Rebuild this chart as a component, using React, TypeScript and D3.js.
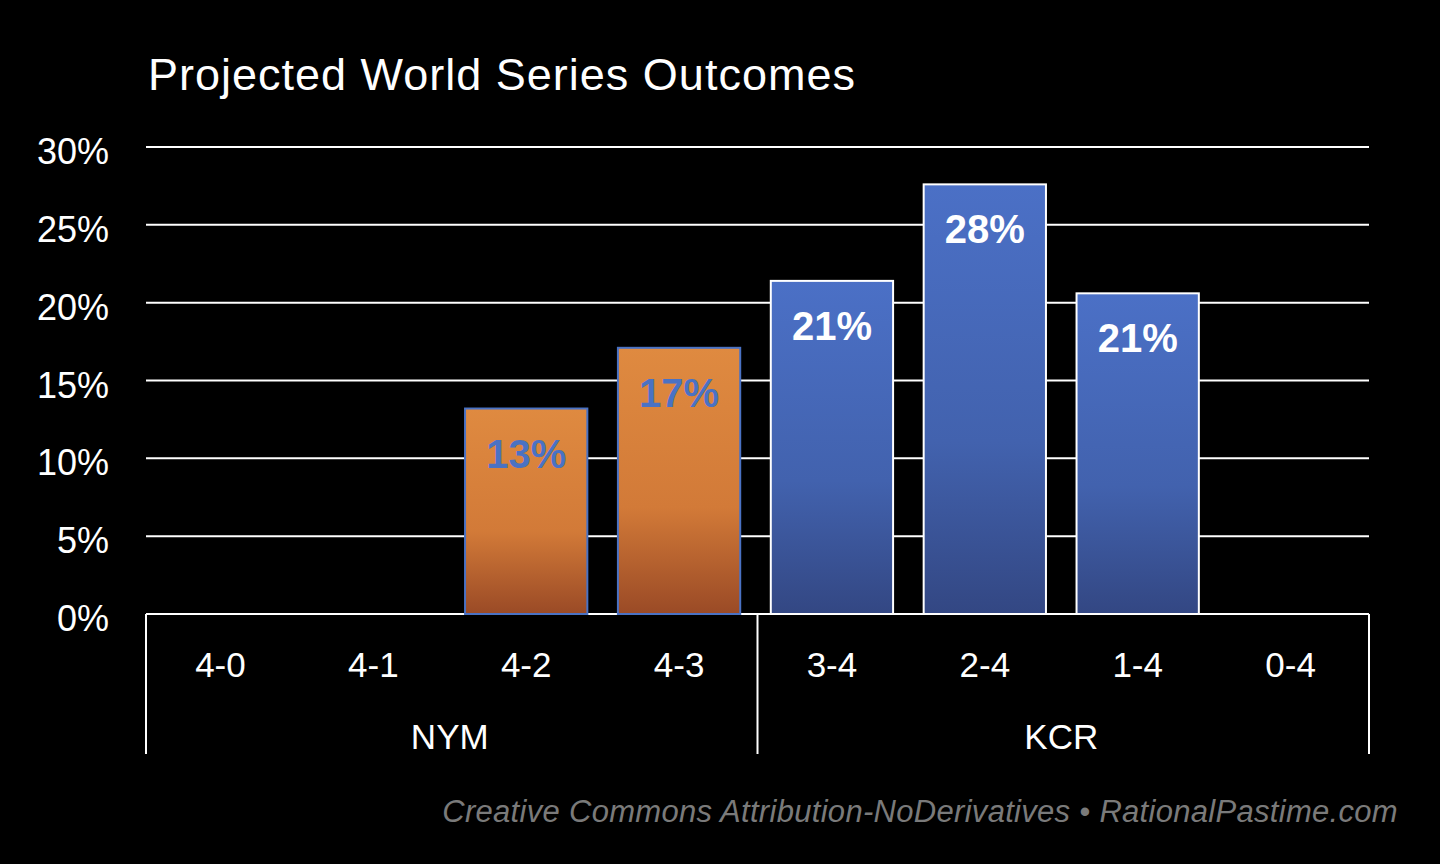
import * as d3 from "d3";

const categories = ["4-0", "4-1", "4-2", "4-3", "3-4", "2-4", "1-4", "0-4"];
const values = [0, 0, 13.2, 17.1, 21.4, 27.6, 20.6, 0];
const labels = ["", "", "13%", "17%", "21%", "28%", "21%", ""];
const teams = ["NYM", "NYM", "NYM", "NYM", "KCR", "KCR", "KCR", "KCR"];
const groups = ["NYM", "KCR"];
const yTicks = [0, 5, 10, 15, 20, 25, 30];

const W = 1440;
const H = 864;
const font = "'Liberation Sans', Arial, Helvetica, sans-serif";

export default function App() {
  const left = 146;
  const right = 1369;
  const x = d3.scaleBand<string>().domain(categories).range([left - 2, right - 2]).paddingInner(0.2).paddingOuter(0.1);
  const y = d3.scaleLinear().domain([0, 30]).range([614, 147]);
  const step = (right - left) / categories.length;
  const mid = left + step * 4;

  return (
    <div style={{ position: "fixed", left: 0, top: 0 }}>
      <svg width={W} height={H} style={{ display: "block", background: "#000" }} fontFamily={font}>
        <defs>
          <linearGradient id="orange" x1="0" y1="0" x2="0" y2="1">
            <stop offset="0" stopColor="#df8a40" />
            <stop offset="0.6" stopColor="#d27a38" />
            <stop offset="1" stopColor="#9a4a26" />
          </linearGradient>
          <linearGradient id="blue" x1="0" y1="0" x2="0" y2="1">
            <stop offset="0" stopColor="#4b70c6" />
            <stop offset="0.6" stopColor="#4262ae" />
            <stop offset="1" stopColor="#334783" />
          </linearGradient>
        </defs>
        <text x={148} y={90} fill="#fff" fontSize={45} letterSpacing={1}>Projected World Series Outcomes</text>
        {yTicks.map((t) => (
          <g key={t}>
            <line x1={left} x2={right} y1={y(t)} y2={y(t)} stroke="#fff" strokeWidth={2} />
            <text x={109} y={y(t) + 17} fill="#fff" fontSize={36} textAnchor="end">{t}%</text>
          </g>
        ))}
        {categories.map((c, i) => {
          const isNym = teams[i] === "NYM";
          const bx = x(c)!;
          return (
            <g key={c}>
              {values[i] > 0 && (
                <rect x={bx} y={y(values[i])} width={x.bandwidth()} height={y(0) - y(values[i])}
                  fill={isNym ? "url(#orange)" : "url(#blue)"} stroke={isNym ? "#4a72c4" : "#fff"} strokeWidth={2} />
              )}
              {labels[i] && (
                <text x={bx + x.bandwidth() / 2} y={y(values[i]) + 59} textAnchor="middle" fontSize={40}
                  fontWeight="bold" fill={isNym ? "#4a72c4" : "#fff"}>{labels[i]}</text>
              )}
              <text x={bx + x.bandwidth() / 2} y={677} textAnchor="middle" fontSize={35} fill="#fff">{c}</text>
            </g>
          );
        })}
        {[left, mid, right].map((lx) => (
          <line key={lx} x1={lx} x2={lx} y1={614} y2={754} stroke="#fff" strokeWidth={2} />
        ))}
        {groups.map((g, i) => (
          <text key={g} x={left + step * (i * 4 + 2) - 2} y={749} textAnchor="middle" fontSize={35} fill="#fff">{g}</text>
        ))}
        <text x={1398} y={822} textAnchor="end" fontSize={31} fontStyle="italic" fill="#7a7a7a" letterSpacing={0.3}>
          Creative Commons Attribution-NoDerivatives • RationalPastime.com
        </text>
      </svg>
    </div>
  );
}
